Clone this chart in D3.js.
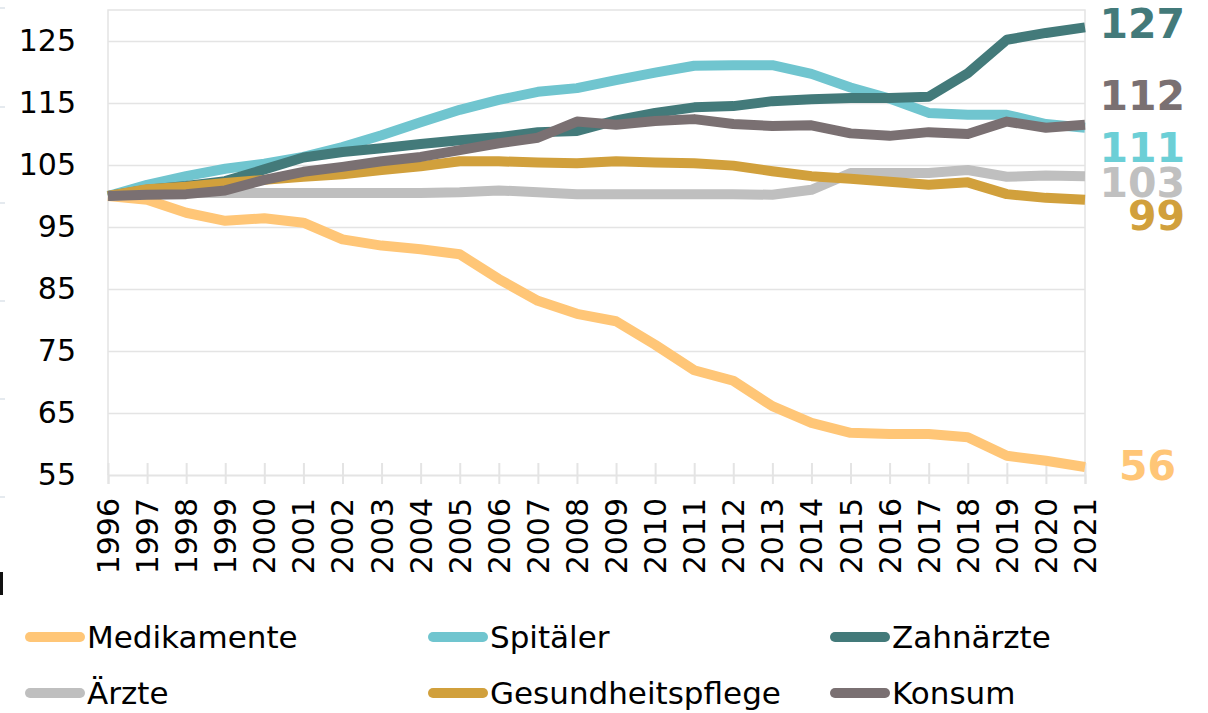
<!DOCTYPE html>
<html>
<head>
<meta charset="utf-8">
<script src="https://cdn.jsdelivr.net/npm/d3@7"></script>
<style>
  body { margin: 0; background: #fff; }
  svg { display: block; font-family: "DejaVu Sans", Verdana, sans-serif; }
</style>
</head>
<body>
<div id="chart"></div>
<script>
// index 1996 = 100
const years = d3.range(1996, 2022);
const yTicks = [55, 65, 75, 85, 95, 105, 115, 125];

const seriesNames = ["Medikamente", "Spitäler", "Zahnärzte", "Ärzte", "Gesundheitspflege", "Konsum"];
const seriesColors = ["#ffc677", "#70c5cf", "#437a7a", "#bfbfbf", "#d1a03c", "#7a7072"];

const medikamente = [100, 99.4, 97.3, 96.0, 96.4, 95.7, 93.0, 92.0, 91.4, 90.6, 86.6, 83.1, 81.0, 79.8, 76.0, 71.9, 70.2, 66.1, 63.4, 61.8, 61.6, 61.6, 61.1, 58.1, 57.3, 56.3];
const spitaeler = [100, 101.8, 103.2, 104.4, 105.2, 106.3, 107.9, 109.8, 111.9, 113.9, 115.5, 116.8, 117.4, 118.7, 119.9, 121.0, 121.1, 121.1, 119.7, 117.5, 115.7, 113.4, 113.1, 113.1, 111.6, 111.0];
const zahnaerzte = [100, 101.0, 101.6, 102.4, 104.3, 106.2, 107.1, 107.7, 108.4, 109.0, 109.5, 110.3, 110.5, 112.2, 113.4, 114.3, 114.5, 115.3, 115.6, 115.8, 115.8, 116.0, 119.8, 125.2, 126.3, 127.2];
const aerzte = [100, 100.4, 100.5, 100.5, 100.5, 100.5, 100.5, 100.5, 100.5, 100.6, 100.9, 100.6, 100.3, 100.3, 100.3, 100.3, 100.3, 100.2, 101.0, 103.7, 103.7, 103.7, 104.2, 103.1, 103.3, 103.2];
const gesundheitspflege = [100, 101.1, 101.5, 102.1, 102.6, 103.1, 103.5, 104.2, 104.8, 105.6, 105.6, 105.4, 105.3, 105.6, 105.4, 105.3, 104.9, 104.0, 103.2, 102.8, 102.3, 101.8, 102.2, 100.3, 99.7, 99.4];
const konsum = [100, 100.2, 100.3, 100.9, 102.6, 103.9, 104.7, 105.6, 106.3, 107.4, 108.5, 109.4, 112.0, 111.5, 112.1, 112.4, 111.6, 111.3, 111.4, 110.1, 109.7, 110.3, 110.0, 112.0, 111.0, 111.5];

const seriesValues = [medikamente, spitaeler, zahnaerzte, aerzte, gesundheitspflege, konsum];

// end labels (rounded last values) and their colours
const endLabels = ["56", "111", "127", "103", "99", "112"];
const endLabelColors = ["#ffc677", "#6ccfd6", "#437a7a", "#c0c0c0", "#d1a03c", "#7a7072"];
const endLabelY = [480, 162, 38, 197, 230, 110];
const endLabelX = [1176, 1185, 1185, 1185, 1185, 1185];

const width = 1208, height = 713;
const plotLeft = 108, plotRight = 1085, plotTop = 10, plotBottom = 475;

const svg = d3.select("#chart").append("svg")
  .attr("width", width)
  .attr("height", height);

const x = d3.scaleLinear().domain([1996, 2021]).range([plotLeft, plotRight]);
const y = d3.scaleLinear().domain([55, 130]).range([plotBottom, plotTop]);

const gridColor = "#e4e4e4";

// stray marks at the left edge of the original image
[8, 107, 203, 301, 399, 497].forEach(function (yy) {
  svg.append("line").attr("x1", 0).attr("x2", 5).attr("y1", yy).attr("y2", yy)
    .attr("stroke", "#dde3ea").attr("stroke-width", 1.5);
});
svg.append("line").attr("x1", 1.5).attr("x2", 1.5).attr("y1", 572).attr("y2", 595)
  .attr("stroke", "#111").attr("stroke-width", 3);

// gridlines
svg.append("g")
  .attr("transform", "translate(" + plotLeft + ",0)")
  .call(d3.axisLeft(y).tickValues(yTicks.slice(1)).tickSize(-(plotRight - plotLeft)).tickFormat(""))
  .call(g => g.select(".domain").remove())
  .selectAll("line").attr("stroke", gridColor).attr("stroke-width", 1.5);

// plot frame (top, left, right)
svg.append("path")
  .attr("d", "M" + plotLeft + "," + plotBottom + "V" + plotTop + "H" + plotRight + "V" + plotBottom)
  .attr("fill", "none").attr("stroke", gridColor).attr("stroke-width", 1.5);

// y axis labels
svg.append("g")
  .attr("transform", "translate(" + plotLeft + ",0)")
  .call(d3.axisLeft(y).tickValues(yTicks).tickSize(0).tickPadding(32))
  .call(g => g.select(".domain").remove())
  .selectAll("text")
  .attr("font-family", "DejaVu Sans")
  .attr("font-size", "30px")
  .attr("fill", "#000");

// x axis with cross ticks
const xAxis = svg.append("g")
  .attr("transform", "translate(0," + plotBottom + ")")
  .call(d3.axisBottom(x).tickValues(years).tickFormat(d3.format("d")).tickSize(9));

xAxis.select(".domain").attr("stroke", gridColor).attr("stroke-width", 2);
xAxis.selectAll(".tick line").attr("y1", -12).attr("stroke", gridColor).attr("stroke-width", 2);
xAxis.selectAll(".tick text")
  .attr("font-family", "DejaVu Sans")
  .attr("font-size", "30px")
  .attr("fill", "#000")
  .attr("transform", "rotate(-90)")
  .attr("text-anchor", "end")
  .attr("x", -23)
  .attr("y", 0)
  .attr("dy", "0.35em");

// lines
const line = d3.line()
  .x((d, i) => x(years[i]))
  .y(d => y(d));

svg.append("g")
  .selectAll("path")
  .data(seriesValues)
  .enter()
  .append("path")
  .attr("d", line)
  .attr("fill", "none")
  .attr("stroke", (d, i) => seriesColors[i])
  .attr("stroke-width", 10)
  .attr("stroke-linejoin", "round")
  .attr("stroke-linecap", "butt");

// end labels
svg.append("g")
  .selectAll("text")
  .data(endLabels)
  .enter()
  .append("text")
  .attr("x", (d, i) => endLabelX[i])
  .attr("y", (d, i) => endLabelY[i])
  .attr("text-anchor", "end")
  .attr("font-family", "DejaVu Sans")
  .attr("font-weight", "bold")
  .attr("font-size", "41px")
  .attr("fill", (d, i) => endLabelColors[i])
  .text(d => d);

// legend, 3 columns x 2 rows
const legendCols = [25, 428, 830];
const legendRows = [637, 693];

const legend = svg.append("g")
  .selectAll("g")
  .data(seriesNames)
  .enter()
  .append("g")
  .attr("transform", (d, i) => "translate(" + legendCols[i % 3] + "," + legendRows[Math.floor(i / 3)] + ")");

legend.append("line")
  .attr("x1", 5).attr("x2", 55)
  .attr("y1", 0).attr("y2", 0)
  .attr("stroke", (d, i) => seriesColors[i])
  .attr("stroke-width", 10)
  .attr("stroke-linecap", "round");

legend.append("text")
  .attr("x", 62)
  .attr("y", 0)
  .attr("dy", "0.35em")
  .attr("font-family", "DejaVu Sans")
  .attr("font-size", "31px")
  .attr("fill", "#000")
  .text(d => d);
</script>
</body>
</html>
